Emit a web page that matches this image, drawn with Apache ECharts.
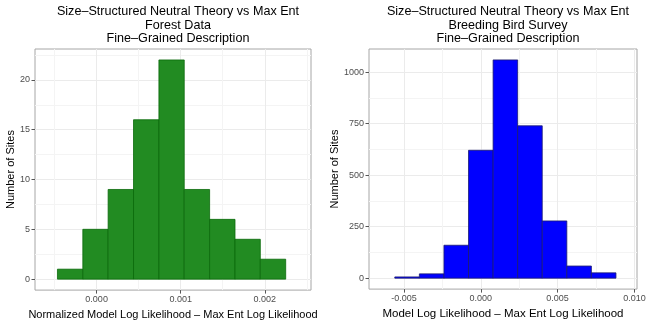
<!DOCTYPE html>
<html>
<head>
<meta charset="utf-8">
<script src="https://cdn.jsdelivr.net/npm/echarts@6/dist/echarts.min.js"></script>
<style>
html,body{margin:0;padding:0;background:#fff;}
#main{width:650px;height:325px;}
</style>
</head>
<body>
<div id="main"></div>
<script>
// 森林数据 直方图
var forestEdges = [-0.000466, -0.000164, 0.000137, 0.000439, 0.000741, 0.001042, 0.001344, 0.001646, 0.001947, 0.002249];
var forestCounts = [1, 5, 9, 16, 22, 9, 6, 4, 2];
var forestXTicks = [0, 0.001, 0.002];
var forestXMinor = [-0.0005, 0.0005, 0.0015, 0.0025];
var forestYTicks = [0, 5, 10, 15, 20];
var forestYMinor = [2.5, 7.5, 12.5, 17.5, 22.5];

// 鸟类调查 直方图
var birdEdges = [-0.0056, -0.0040, -0.0024, -0.0008, 0.0008, 0.0024, 0.0040, 0.0056, 0.0072, 0.0088];
var birdCounts = [6, 21, 160, 621, 1060, 740, 278, 59, 26];
var birdXTicks = [-0.005, 0, 0.005, 0.010];
var birdXMinor = [-0.0025, 0.0025, 0.0075];
var birdYTicks = [0, 250, 500, 750, 1000];
var birdYMinor = [125, 375, 625, 875];

var FONT = 'Liberation Sans, Arial, sans-serif';

function binData(edges, counts){
	var out = [];
	for (var i = 0; i < counts.length; i++) {
		out.push([edges[i], edges[i + 1], counts[i]]);
	}
	return out;
}

function histRender(fill, stroke){
	return function(params, api){
		var p0 = api.coord([api.value(0), api.value(2)]);
		var p1 = api.coord([api.value(1), 0]);
		return {
			type: 'rect',
			shape: {x: p0[0], y: p0[1], width: p1[0] - p0[0], height: p1[1] - p0[1]},
			style: {fill: fill, stroke: stroke, lineWidth: 0.8}
		};
	};
}

function mainX(grid, min, max, ticks, name, nameSize){
	return {
		type: 'value', gridIndex: grid, min: min, max: max, position: 'bottom',
		name: name, nameLocation: 'middle', nameGap: 15,
		nameTextStyle: {color: '#000', fontSize: nameSize, fontFamily: FONT},
		axisLine: {show: false, onZero: false},
		axisTick: {show: true, length: 3.5, customValues: ticks, lineStyle: {color: '#555'}},
		axisLabel: {customValues: ticks, color: '#4d4d4d', fontSize: 9, fontFamily: FONT, margin: 5,
			formatter: function(v){ return v.toFixed(3); }},
		splitLine: {show: true, lineStyle: {color: '#ebebeb', width: 1}}
	};
}

function minorAxis(pos, grid, min, max, ticks){
	return {
		type: 'value', gridIndex: grid, min: min, max: max, position: pos,
		axisLine: {show: false, onZero: false}, axisTick: {show: false, customValues: ticks},
		axisLabel: {show: false, customValues: ticks},
		splitLine: {show: true, lineStyle: {color: '#f4f4f4', width: 1}}
	};
}

function mainY(grid, min, max, ticks, gap){
	return {
		type: 'value', gridIndex: grid, min: min, max: max, position: 'left',
		name: 'Number of Sites', nameLocation: 'middle', nameGap: gap,
		nameTextStyle: {color: '#000', fontSize: 11, fontFamily: FONT},
		axisLine: {show: false, onZero: false},
		axisTick: {show: true, length: 3.5, customValues: ticks, lineStyle: {color: '#555'}},
		axisLabel: {customValues: ticks, color: '#4d4d4d', fontSize: 9, fontFamily: FONT, margin: 5,
			formatter: function(v){ return String(v); }},
		splitLine: {show: true, lineStyle: {color: '#ebebeb', width: 1}}
	};
}

function drawCharts(){
	var myChart = echarts.init(document.getElementById('main'), null, {renderer: 'canvas'});
	var titleStyle = {color: '#000', fontSize: 12.6, fontWeight: 'normal', fontFamily: FONT, lineHeight: 13.5};
	var option = {
		animation: false,
		backgroundColor: '#fff',
		title: [
			{text: 'Size\u2013Structured Neutral Theory vs Max Ent\nForest Data\nFine\u2013Grained Description',
				left: 173, top: 0, textAlign: 'center', textStyle: titleStyle},
			{text: 'Size\u2013Structured Neutral Theory vs Max Ent\nBreeding Bird Survey\nFine\u2013Grained Description',
				left: 503, top: 0, textAlign: 'center', textStyle: titleStyle}
		],
		grid: [
			{left: 35, top: 49, width: 276, height: 243.5, show: true, borderColor: '#a6a6a6', borderWidth: 1, backgroundColor: '#fff'},
			{left: 369, top: 49, width: 268, height: 243.5, show: true, borderColor: '#a6a6a6', borderWidth: 1, backgroundColor: '#fff'}
		],
		xAxis: [
			minorAxis('top', 0, -0.000733, 0.00255, forestXMinor),
			mainX(0, -0.000733, 0.00255, forestXTicks, 'Normalized Model Log Likelihood \u2013 Max Ent Log Likelihood', 11),
			minorAxis('top', 1, -0.00728, 0.01017, birdXMinor),
			mainX(1, -0.00728, 0.01017, birdXTicks, 'Model Log Likelihood \u2013 Max Ent Log Likelihood', 11.5)
		],
		yAxis: [
			minorAxis('right', 0, -1.1, 23.1, forestYMinor),
			mainY(0, -1.1, 23.1, forestYTicks, 15),
			minorAxis('right', 1, -53, 1113, birdYMinor),
			mainY(1, -53, 1113, birdYTicks, 25)
		],
		series: [
			{
				name: 'forest', type: 'custom', xAxisIndex: 1, yAxisIndex: 1,
				renderItem: histRender('#228b22', '#0a6a0a'),
				encode: {x: [0, 1], y: 2},
				data: binData(forestEdges, forestCounts)
			},
			{
				name: 'bird', type: 'custom', xAxisIndex: 3, yAxisIndex: 3,
				renderItem: histRender('#0000ff', '#1a1a70'),
				encode: {x: [0, 1], y: 2},
				data: binData(birdEdges, birdCounts)
			}
		]
	};
	myChart.setOption(option);
}

drawCharts();
</script>
</body>
</html>
